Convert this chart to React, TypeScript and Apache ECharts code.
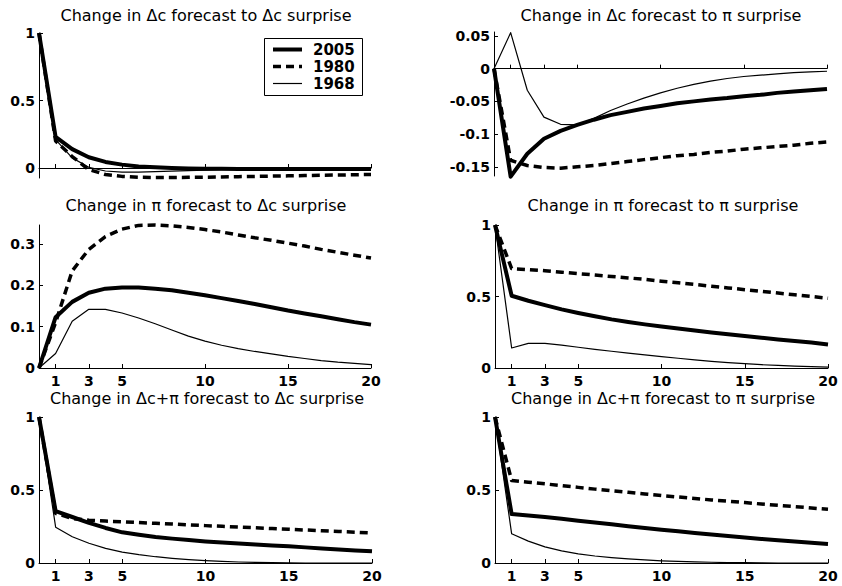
import React, { useEffect, useRef } from "react";
import * as echarts from "echarts";

// Forecast horizon (quarters)
const horizon = [0, 1, 2, 3, 4, 5, 6, 7, 8, 9, 10, 11, 12, 13, 14, 15, 16, 17, 18, 19, 20];
const seriesNames = ["2005", "1980", "1968"];
const xTicks = [1, 3, 5, 10, 15, 20];

const titles = [
  "Change in \u0394c forecast to \u0394c surprise",
  "Change in \u0394c forecast to \u03c0 surprise",
  "Change in \u03c0 forecast to \u0394c surprise",
  "Change in \u03c0 forecast to \u03c0 surprise",
  "Change in \u0394c+\u03c0 forecast to \u0394c surprise",
  "Change in \u0394c+\u03c0 forecast to \u03c0 surprise",
];

// Panel 1: Δc forecast to Δc surprise
const dcDc2005 = [1, 0.23, 0.14, 0.08, 0.045, 0.025, 0.012, 0.005, 0.0, -0.003, -0.005, -0.006, -0.007, -0.007, -0.008, -0.008, -0.008, -0.008, -0.008, -0.008, -0.008];
const dcDc1980 = [1, 0.2, 0.085, -0.012, -0.048, -0.062, -0.068, -0.07, -0.07, -0.069, -0.068, -0.066, -0.064, -0.062, -0.06, -0.058, -0.056, -0.054, -0.052, -0.05, -0.048];
const dcDc1968 = [1, 0.21, 0.075, 0.005, -0.022, -0.03, -0.03, -0.027, -0.023, -0.019, -0.016, -0.013, -0.011, -0.009, -0.007, -0.006, -0.005, -0.004, -0.003, -0.003, -0.002];

// Panel 2: Δc forecast to π surprise
const dcPi2005 = [0, -0.165, -0.13, -0.107, -0.095, -0.086, -0.078, -0.071, -0.066, -0.061, -0.057, -0.053, -0.05, -0.047, -0.045, -0.042, -0.04, -0.037, -0.035, -0.033, -0.031];
const dcPi1980 = [0, -0.14, -0.148, -0.151, -0.152, -0.15, -0.148, -0.145, -0.142, -0.139, -0.136, -0.133, -0.131, -0.128, -0.126, -0.123, -0.121, -0.119, -0.117, -0.114, -0.112];
const dcPi1968 = [0, 0.055, -0.033, -0.074, -0.085, -0.086, -0.076, -0.064, -0.054, -0.045, -0.037, -0.03, -0.024, -0.019, -0.015, -0.012, -0.01, -0.008, -0.006, -0.005, -0.004];

// Panel 3: π forecast to Δc surprise
const piDc2005 = [0, 0.123, 0.16, 0.182, 0.192, 0.195, 0.195, 0.192, 0.188, 0.182, 0.176, 0.169, 0.162, 0.155, 0.147, 0.139, 0.132, 0.125, 0.118, 0.111, 0.105];
const piDc1980 = [0, 0.11, 0.235, 0.287, 0.318, 0.336, 0.345, 0.346, 0.344, 0.34, 0.335, 0.329, 0.322, 0.315, 0.309, 0.302, 0.295, 0.287, 0.28, 0.273, 0.266];
const piDc1968 = [0, 0.035, 0.113, 0.142, 0.142, 0.133, 0.121, 0.107, 0.092, 0.077, 0.065, 0.055, 0.047, 0.04, 0.034, 0.028, 0.023, 0.018, 0.014, 0.011, 0.008];

// Panel 4: π forecast to π surprise
const piPi2005 = [1, 0.505, 0.47, 0.44, 0.41, 0.385, 0.362, 0.34, 0.322, 0.305, 0.29, 0.276, 0.262, 0.249, 0.236, 0.224, 0.212, 0.2, 0.189, 0.178, 0.165];
const piPi1980 = [1, 0.695, 0.688, 0.68, 0.67, 0.66, 0.65, 0.64, 0.63, 0.62, 0.607, 0.596, 0.584, 0.572, 0.56, 0.548, 0.536, 0.524, 0.512, 0.5, 0.488];
const piPi1968 = [1, 0.14, 0.172, 0.172, 0.16, 0.145, 0.13, 0.117, 0.104, 0.092, 0.08, 0.068, 0.057, 0.047, 0.038, 0.03, 0.023, 0.018, 0.013, 0.009, 0.006];

// Panel 5: Δc+π forecast to Δc surprise
const sumDc2005 = [1, 0.355, 0.315, 0.275, 0.24, 0.21, 0.193, 0.178, 0.167, 0.157, 0.148, 0.14, 0.133, 0.126, 0.12, 0.114, 0.107, 0.1, 0.093, 0.086, 0.08];
const sumDc1980 = [1, 0.34, 0.305, 0.293, 0.287, 0.282, 0.277, 0.272, 0.267, 0.261, 0.256, 0.251, 0.246, 0.241, 0.236, 0.231, 0.226, 0.221, 0.216, 0.211, 0.206];
const sumDc1968 = [1, 0.245, 0.18, 0.135, 0.1, 0.075, 0.057, 0.043, 0.032, 0.023, 0.016, 0.011, 0.007, 0.004, 0.002, 0.001, 0, 0, 0, 0, 0];

// Panel 6: Δc+π forecast to π surprise
const sumPi2005 = [1, 0.335, 0.325, 0.315, 0.303, 0.29, 0.278, 0.265, 0.252, 0.24, 0.228, 0.217, 0.206, 0.195, 0.185, 0.175, 0.165, 0.156, 0.147, 0.138, 0.13];
const sumPi1980 = [1, 0.565, 0.553, 0.542, 0.53, 0.518, 0.506, 0.495, 0.484, 0.473, 0.462, 0.452, 0.442, 0.432, 0.423, 0.414, 0.404, 0.395, 0.386, 0.377, 0.368];
const sumPi1968 = [1, 0.2, 0.15, 0.11, 0.083, 0.063, 0.048, 0.037, 0.028, 0.021, 0.015, 0.011, 0.008, 0.005, 0.003, 0.002, 0.001, 0, 0, 0, 0];

const yTicksTL = [0, 0.5, 1];
const yTicksTR = [-0.15, -0.1, -0.05, 0, 0.05];
const yTicksML = [0, 0.1, 0.2, 0.3];
const yTicksUnit = [0, 0.5, 1];

const panels = [
  { data: [dcDc2005, dcDc1980, dcDc1968], yMin: -0.074, yMax: 1, yTicks: yTicksTL, showX: false, zero: true },
  { data: [dcPi2005, dcPi1980, dcPi1968], yMin: -0.164, yMax: 0.056, yTicks: yTicksTR, showX: false, zero: true },
  { data: [piDc2005, piDc1980, piDc1968], yMin: 0, yMax: 0.346, yTicks: yTicksML, showX: true, zero: false },
  { data: [piPi2005, piPi1980, piPi1968], yMin: 0, yMax: 1, yTicks: yTicksUnit, showX: true, zero: false },
  { data: [sumDc2005, sumDc1980, sumDc1968], yMin: 0, yMax: 1, yTicks: yTicksUnit, showX: true, zero: false },
  { data: [sumPi2005, sumPi1980, sumPi1968], yMin: 0, yMax: 1, yTicks: yTicksUnit, showX: true, zero: false },
];

const grids = [
  { left: 39, top: 33, width: 332, height: 145 },
  { left: 494, top: 32, width: 333, height: 144 },
  { left: 39, top: 225, width: 332, height: 143 },
  { left: 495, top: 225, width: 333, height: 143 },
  { left: 39, top: 417, width: 333, height: 146 },
  { left: 495, top: 417, width: 333, height: 146 },
];

const titlePos = [
  { x: 206, y: 7 },
  { x: 661, y: 7 },
  { x: 206, y: 197 },
  { x: 663, y: 197 },
  { x: 207, y: 390 },
  { x: 663, y: 390 },
];

const lineStyles = [
  { width: 4, type: "solid" as any },
  { width: 3.5, type: [8, 5] as any },
  { width: 1.2, type: "solid" as any },
];

// Legend box layout
const legendBox = { x: 264, y: 38, w: 98, h: 57 };
const legendRowY = [49.5, 66.5, 83.5];

const FONT = "DejaVu Sans";

export default function App() {
  const ref = useRef<HTMLDivElement>(null);
  useEffect(() => {
    document.body.style.margin = "0";
    const chart = echarts.init(ref.current!, undefined, { renderer: "svg" });
    const series: any[] = [];
    panels.forEach((p, gi) => {
      p.data.forEach((vals, si) => {
        series.push({
          type: "line",
          name: seriesNames[si],
          xAxisIndex: gi,
          yAxisIndex: gi,
          data: horizon.map((h, i) => [h, vals[i]]),
          symbol: "none",
          clip: false,
          z: 3 - si,
          lineStyle: { color: "#000", width: lineStyles[si].width, type: lineStyles[si].type, cap: "butt", join: "round" },
          itemStyle: { color: "#000" },
          markLine:
            p.zero && si === 0
              ? {
                  silent: true,
                  symbol: "none",
                  label: { show: false },
                  lineStyle: { color: "#000", width: 1, type: "solid" },
                  data: [{ yAxis: 0 }],
                }
              : undefined,
        });
      });
    });

    const legendElements: any[] = [
      {
        type: "rect",
        shape: { x: legendBox.x + 0.5, y: legendBox.y + 0.5, width: legendBox.w, height: legendBox.h },
        style: { fill: "#fff", stroke: "#000", lineWidth: 1 },
        z: 100,
      },
    ];
    seriesNames.forEach((n, i) => {
      legendElements.push({
        type: "line",
        shape: { x1: legendBox.x + 9, y1: legendRowY[i], x2: legendBox.x + 38, y2: legendRowY[i] },
        style: {
          stroke: "#000",
          lineWidth: lineStyles[i].width,
          lineDash: Array.isArray(lineStyles[i].type) ? lineStyles[i].type : null,
          lineCap: "butt",
        },
        z: 101,
      });
      legendElements.push({
        type: "text",
        x: legendBox.x + 49,
        y: legendRowY[i],
        style: {
          text: n,
          fill: "#000",
          font: `bold 15px "${FONT}"`,
          textVerticalAlign: "middle",
          verticalAlign: "middle",
          textAlign: "left",
        },
        z: 101,
      });
    });

    chart.setOption({
      animation: false,
      backgroundColor: "#fff",
      title: titles.map((t, i) => ({
        text: t,
        left: titlePos[i].x,
        top: titlePos[i].y,
        textAlign: "center",
        padding: 0,
        textStyle: { fontFamily: FONT, fontSize: 16, fontWeight: "normal", color: "#000" },
      })),
      graphic: legendElements,
      grid: grids.map((g) => ({ ...g, containLabel: false })),
      xAxis: grids.map((_, i) => ({
        type: "value",
        gridIndex: i,
        min: 0,
        max: 20,
        splitLine: { show: false },
        axisLine: { show: true, lineStyle: { color: "#000", width: 1 } },
        axisTick: { show: true, inside: true, length: 4, customValues: xTicks, lineStyle: { color: "#000" } },
        axisLabel: {
          show: panels[i].showX,
          customValues: xTicks,
          margin: 6,
          fontFamily: FONT,
          fontSize: 14,
          fontWeight: "bold",
          color: "#000",
        },
      })),
      yAxis: grids.map((_, i) => ({
        type: "value",
        gridIndex: i,
        min: panels[i].yMin,
        max: panels[i].yMax,
        splitLine: { show: false },
        axisLine: { show: true, onZero: false, lineStyle: { color: "#000", width: 1 } },
        axisTick: { show: true, inside: true, length: 4, customValues: panels[i].yTicks, lineStyle: { color: "#000" } },
        axisLabel: {
          show: true,
          customValues: panels[i].yTicks,
          margin: 4,
          fontFamily: FONT,
          fontSize: 14,
          fontWeight: "bold",
          color: "#000",
        },
      })),
      series,
    });
    return () => chart.dispose();
  }, []);
  return <div ref={ref} style={{ width: 842, height: 586, position: "absolute", left: 0, top: 0 }} />;
}
